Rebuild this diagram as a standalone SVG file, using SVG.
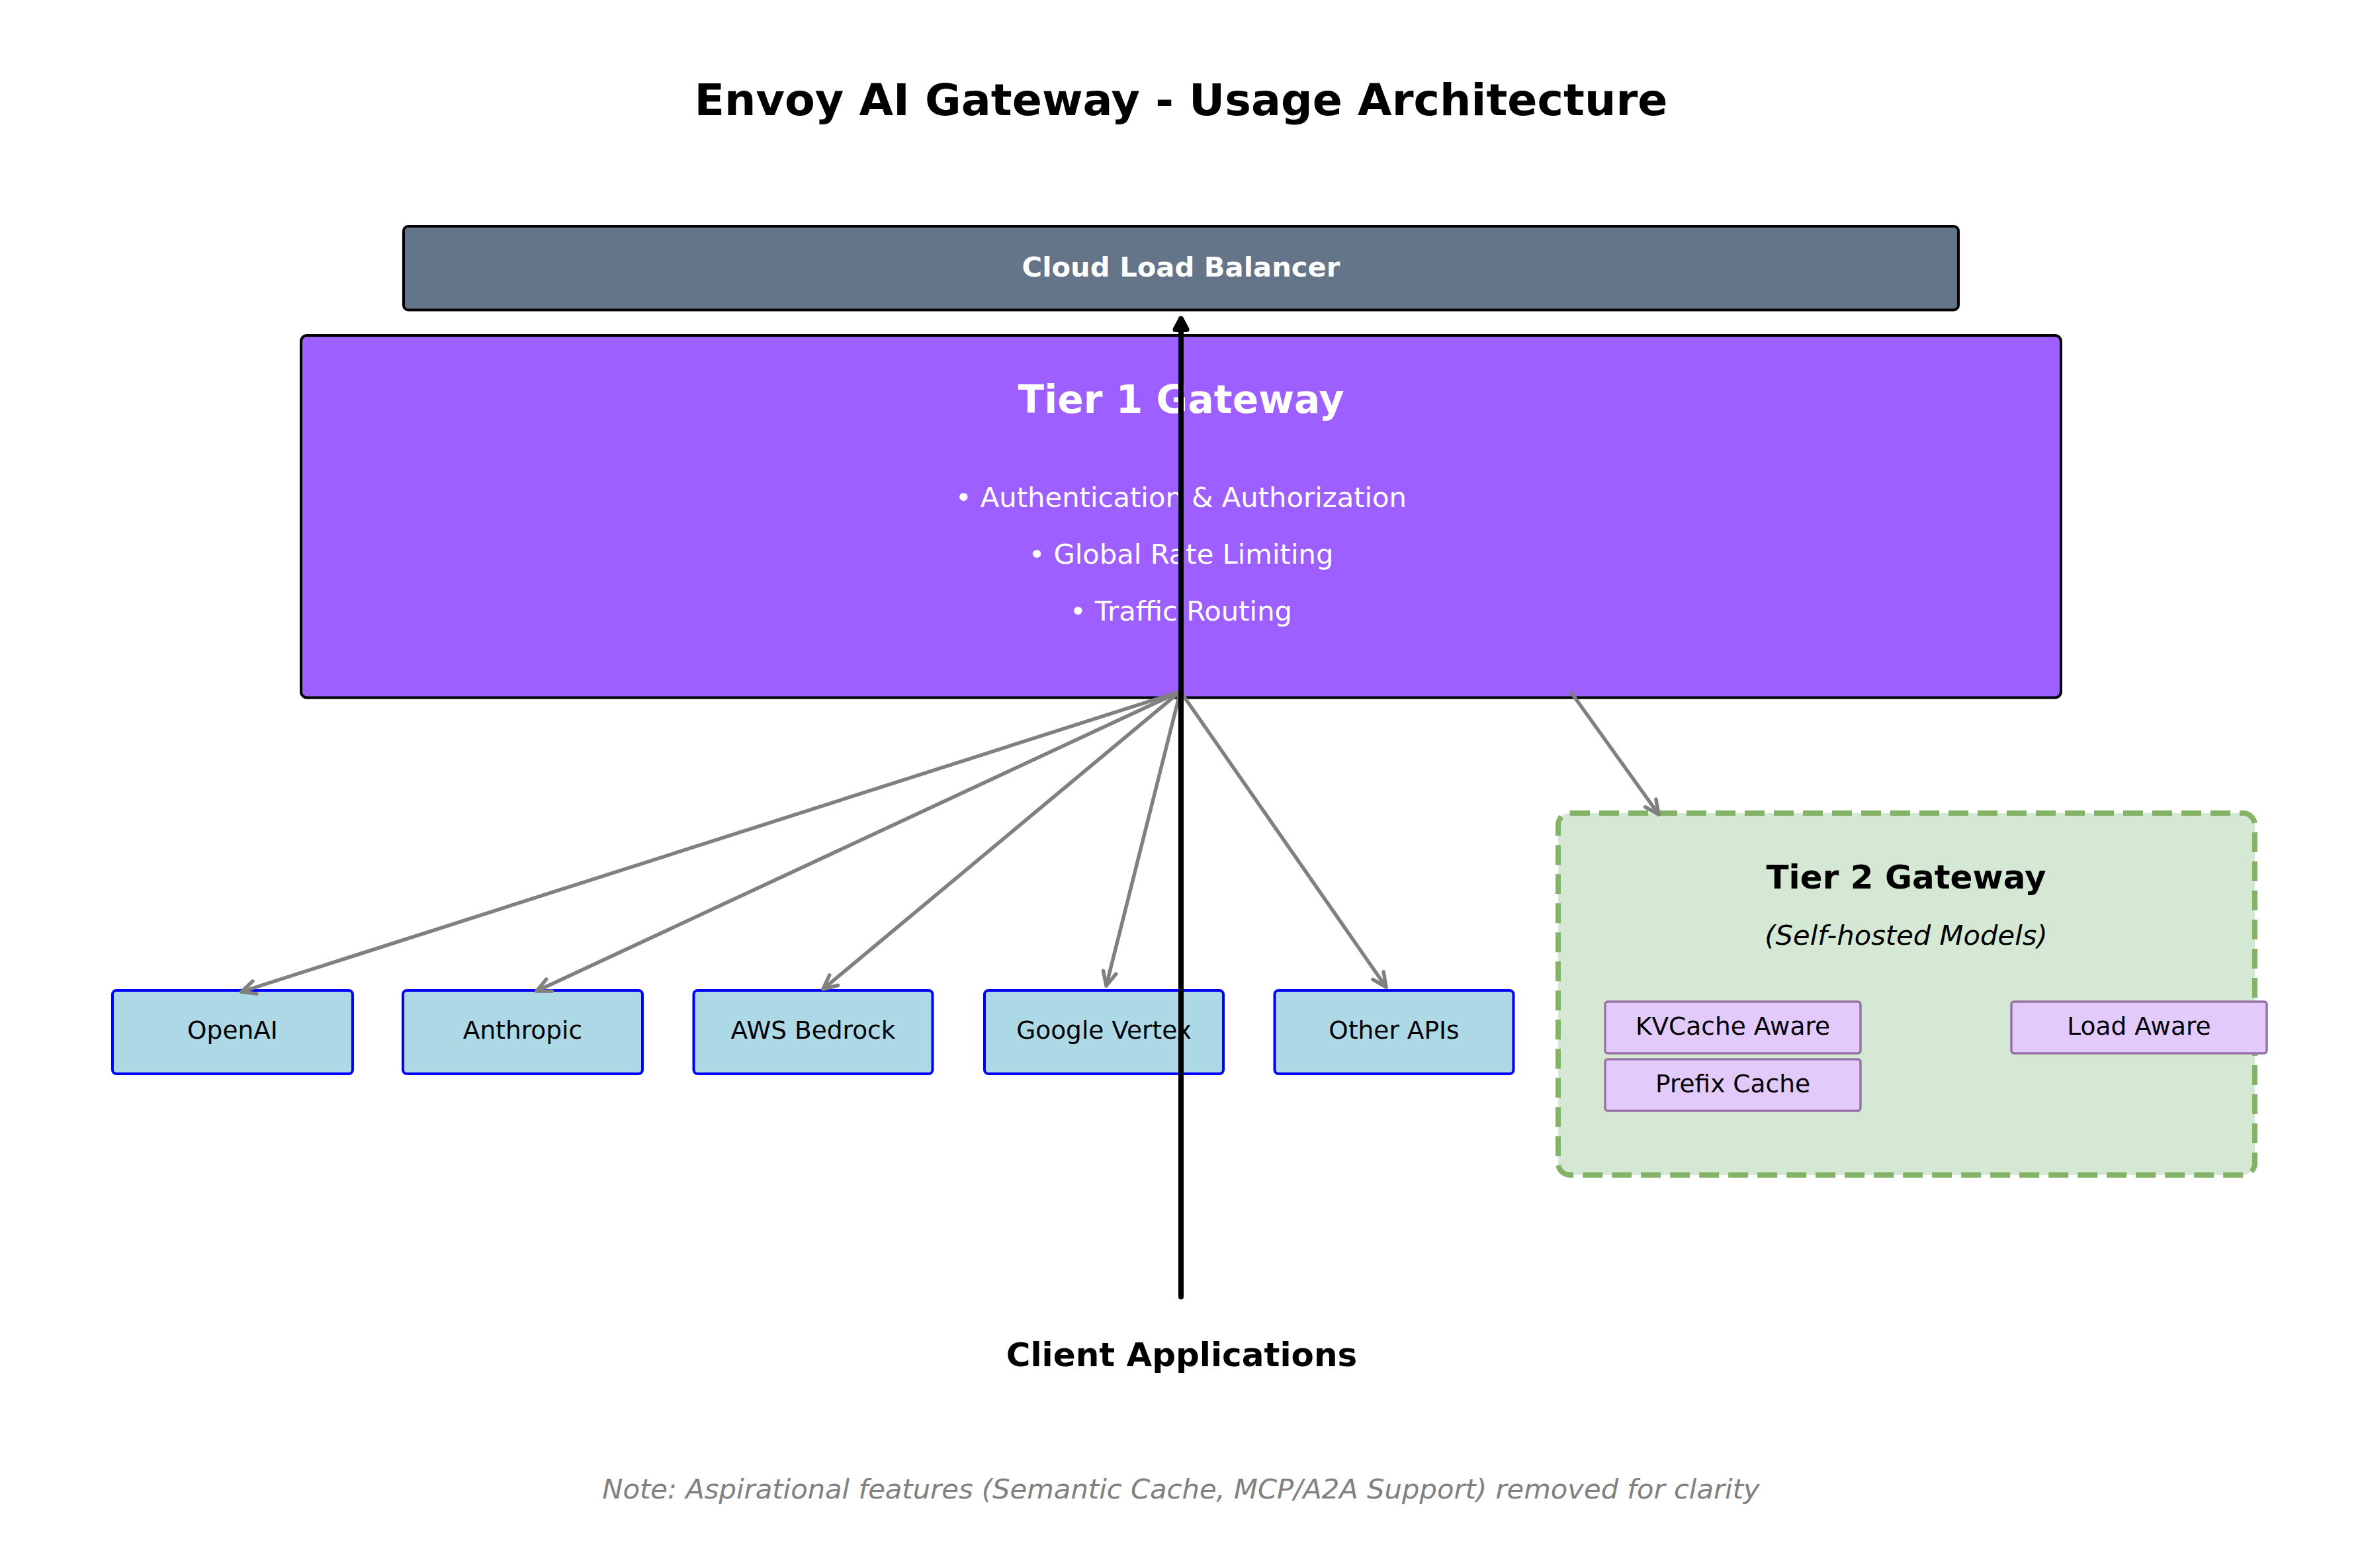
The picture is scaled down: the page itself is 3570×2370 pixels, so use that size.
<svg xmlns="http://www.w3.org/2000/svg" width="3570" height="2370" viewBox="0 0 3570 2370">
<style>
  text { font-family: "DejaVu Sans", "Liberation Sans", sans-serif; }
  .title { font-size: 66.7px; font-weight: bold; fill: #000; }
  .lb { fill: #647489; stroke: #000; stroke-width: 4; }
  .lbtext { font-size: 41.7px; font-weight: bold; fill: #fff; }
  .t1 { fill: #9d5fff; stroke: #000; stroke-width: 4; }
  .t1title { font-size: 58.3px; font-weight: bold; fill: #fff; }
  .bullet { font-size: 41.7px; fill: #fff; }
  .prov { fill: #add8e6; stroke: #0000ff; stroke-width: 4; }
  .provtext { font-size: 37.5px; fill: #000; }
  .t2 { fill: #d5e8d4; stroke: #82b366; stroke-width: 8; stroke-dasharray: 30 14; }
  .t2title { font-size: 50px; font-weight: bold; fill: #000; }
  .t2sub { font-size: 41.7px; font-style: italic; fill: #000; }
  .feat { fill: #e2cbfb; stroke: #9673a6; stroke-width: 3.5; }
  .feattext { font-size: 37.5px; fill: #000; }
  .client { font-size: 50px; font-weight: bold; fill: #000; }
  .note { font-size: 41.7px; font-style: italic; fill: #808080; }
  .gray { stroke: #808080; stroke-width: 5.5; fill: none; stroke-linecap: round; marker-end: url(#grayhead); }
  .black { stroke: #000; stroke-width: 8; fill: none; stroke-linecap: round; marker-end: url(#blackhead); }
</style>
<defs>
  <marker id="grayhead" markerUnits="userSpaceOnUse" viewBox="-30 -20 40 40" refX="0" refY="0" markerWidth="40" markerHeight="40" orient="auto" overflow="visible">
    <path d="M -21 -10 L 0 0 L -21 10" fill="none" stroke="#808080" stroke-width="5.5" stroke-linecap="round" stroke-linejoin="round"/>
  </marker>
  <marker id="blackhead" markerUnits="userSpaceOnUse" viewBox="-30 -20 40 40" refX="0" refY="0" markerWidth="40" markerHeight="40" orient="auto" overflow="visible">
    <path d="M -16 -8.5 L 0 0 L -16 8.5 Z" fill="#000" stroke="#000" stroke-width="8" stroke-linecap="round" stroke-linejoin="round"/>
  </marker>
</defs>

<rect x="0" y="0" width="3570" height="2370" fill="#ffffff"/>

<text class="title" x="1785" y="174" text-anchor="middle">Envoy AI Gateway - Usage Architecture</text>

<g id="cloud-load-balancer">
  <rect class="lb" x="610" y="342" width="2350" height="126.5" rx="7"/>
  <text class="lbtext" x="1785" y="418" text-anchor="middle">Cloud Load Balancer</text>
</g>

<g id="tier1-gateway">
  <rect class="t1" x="455" y="507" width="2660" height="547.5" rx="9"/>
  <text class="t1title" x="1785" y="624" text-anchor="middle">Tier 1 Gateway</text>
  <text class="bullet" x="1785" y="766" text-anchor="middle">• Authentication &amp; Authorization</text>
  <text class="bullet" x="1785" y="852" text-anchor="middle">• Global Rate Limiting</text>
  <text class="bullet" x="1785" y="938" text-anchor="middle">• Traffic Routing</text>
</g>

<g id="openai">
  <rect class="prov" x="170" y="1497" width="363" height="126" rx="6"/>
  <text class="provtext" x="351.5" y="1570" text-anchor="middle">OpenAI</text>
</g>
<g id="anthropic">
  <rect class="prov" x="609" y="1497" width="362" height="126" rx="6"/>
  <text class="provtext" x="790" y="1570" text-anchor="middle">Anthropic</text>
</g>
<g id="aws-bedrock">
  <rect class="prov" x="1048.5" y="1497" width="361" height="126" rx="6"/>
  <text class="provtext" x="1229" y="1570" text-anchor="middle">AWS Bedrock</text>
</g>
<g id="google-vertex">
  <rect class="prov" x="1488" y="1497" width="361" height="126" rx="6"/>
  <text class="provtext" x="1668.5" y="1570" text-anchor="middle">Google Vertex</text>
</g>
<g id="other-apis">
  <rect class="prov" x="1926.5" y="1497" width="361" height="126" rx="6"/>
  <text class="provtext" x="2107" y="1570" text-anchor="middle">Other APIs</text>
</g>

<g id="tier2-gateway">
  <rect class="t2" x="2355" y="1229" width="1053" height="547" rx="18"/>
  <text class="t2title" x="2881" y="1343" text-anchor="middle">Tier 2 Gateway</text>
  <text class="t2sub" x="2881" y="1428" text-anchor="middle">(Self-hosted Models)</text>
</g>

<g id="kvcache-aware">
  <rect class="feat" x="2426" y="1514" width="386" height="78" rx="4"/>
  <text class="feattext" x="2619" y="1564" text-anchor="middle">KVCache Aware</text>
</g>
<g id="prefix-cache">
  <rect class="feat" x="2426" y="1601" width="386" height="78" rx="4"/>
  <text class="feattext" x="2619" y="1651" text-anchor="middle">Prefix Cache</text>
</g>
<g id="load-aware">
  <rect class="feat" x="3040" y="1514" width="386" height="78" rx="4"/>
  <text class="feattext" x="3233" y="1564" text-anchor="middle">Load Aware</text>
</g>

<g id="client-applications">
  <text class="client" x="1786" y="2065" text-anchor="middle">Client Applications</text>
</g>

<text class="note" x="1785" y="2265" text-anchor="middle">Note: Aspirational features (Semantic Cache, MCP/A2A Support) removed for clarity</text>

<g id="connectors">
  <line class="gray" x1="1784" y1="1045" x2="365" y2="1499"/>
  <line class="gray" x1="1784" y1="1045" x2="811" y2="1498"/>
  <line class="gray" x1="1784" y1="1045" x2="1244" y2="1495"/>
  <line class="gray" x1="1784" y1="1045" x2="1672" y2="1490"/>
  <line class="gray" x1="1784" y1="1045" x2="2095" y2="1492"/>
  <line class="gray" x1="2375" y1="1047" x2="2507" y2="1231"/>
  <line class="black" x1="1785" y1="1960" x2="1785" y2="482"/>
</g>
</svg>
